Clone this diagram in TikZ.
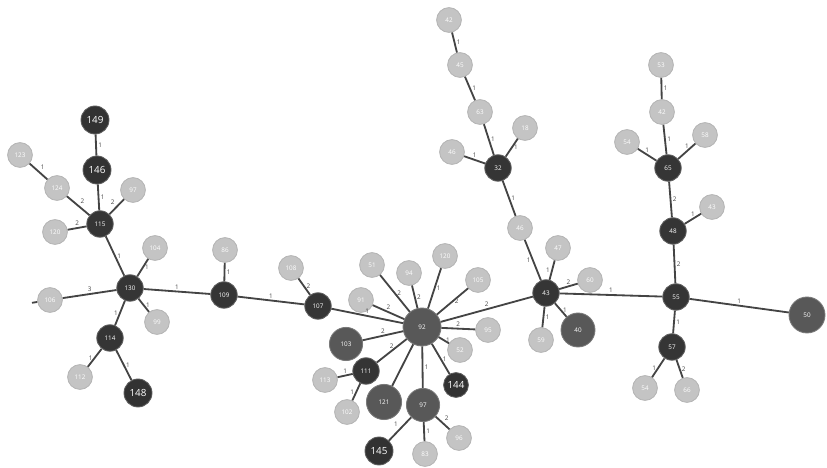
\documentclass[tikz,border=0pt]{standalone}
\usepackage{xcolor}
\usepackage{fontspec}
\setmainfont{Open Sans}
\usepackage{tikz}
\usetikzlibrary{positioning}

\definecolor{leafcol}{HTML}{C4C4C4}
\definecolor{leafrim}{HTML}{B4B4B4}
\definecolor{hubcol}{HTML}{353535}
\definecolor{heavycol}{HTML}{585858}
\definecolor{linkcol}{HTML}{444444}

\begin{document}
\begin{tikzpicture}[every node/.style={font=\fontsize{4.5}{4.5}\selectfont},
  leaf/.style={circle, draw=leafrim, line width=0.6pt, fill=leafcol, text=white, minimum size=0.62cm, inner sep=0pt},
  hub/.style={circle, draw=hubcol!80, line width=0.6pt, fill=hubcol, text=white, minimum size=0.66cm, inner sep=0pt},
  bighub/.style={hub, fill=hubcol!95!black, minimum size=0.70cm, font=\scriptsize},
  heavy/.style={circle, draw=heavycol!80, line width=0.6pt, fill=heavycol, text=white, inner sep=0pt},
  link/.style={draw=linkcol, line width=1.3pt},
  elab/.style={text=linkcol, font=\fontsize{4.5}{4.5}\selectfont, inner sep=1pt}]
  \useasboundingbox (0,0) rectangle (20.675,11.7);

  % Left branch: 115 and 130 with their leaves
  \node[bighub] (n149) at (2.375,8.70) {149};
  \node[bighub] (n146) at (2.425,7.45) {146};
  \node[leaf] (n123) at (0.50,7.825) {123};
  \node[leaf] (n124) at (1.425,7.00) {124};
  \node[leaf] (n97a) at (3.325,6.95) {97};
  \node[leaf] (n120a) at (1.375,5.90) {120};
  \node[hub] (n115) at (2.50,6.10) {115};
  \node[leaf] (n104) at (3.875,5.50) {104};
  \node[hub] (n130) at (3.25,4.50) {130};
  \node[leaf] (n106) at (1.25,4.20) {106};
  \coordinate (cut) at (0.80,4.13);
  \node[leaf] (n99) at (3.925,3.65) {99};
  \node[hub] (n114) at (2.75,3.25) {114};
  \node[leaf] (n112) at (2.00,2.275) {112};
  \node[bighub] (n148) at (3.45,1.875) {148};

  \draw[link] (n149) -- node[elab, right] {1} (n146);
  \draw[link] (n146) -- node[elab, right] {1} (n115);
  \draw[link] (n123) -- node[elab, above right] {1} (n124);
  \draw[link] (n124) -- node[elab, above right] {2} (n115);
  \draw[link] (n97a) -- node[elab, above left] {2} (n115);
  \draw[link] (n120a) -- node[elab, above] {2} (n115);
  \draw[link] (n115) -- node[elab, right] {1} (n130);
  \draw[link] (n104) -- node[elab, right] {1} (n130);
  \draw[link] (n106) -- node[elab, above] {3} (n130);
  \draw[link] (n106) -- (cut);
  \draw[link] (n130) -- node[elab, right] {1} (n99);
  \draw[link] (n130) -- node[elab, left] {1} (n114);
  \draw[link] (n114) -- node[elab, left] {1} (n112);
  \draw[link] (n114) -- node[elab, right] {1} (n148);

  % Chain to the centre
  \node[leaf] (n86) at (5.625,5.45) {86};
  \node[hub] (n109) at (5.60,4.325) {109};
  \node[leaf] (n108) at (7.275,5.00) {108};
  \node[hub] (n107) at (7.95,4.05) {107};

  \draw[link] (n130) -- node[elab, above] {1} (n109);
  \draw[link] (n86) -- node[elab, right] {1} (n109);
  \draw[link] (n109) -- node[elab, above] {1} (n107);
  \draw[link] (n108) -- node[elab, right] {2} (n107);

  % Centre: 92 and its neighbours
  \node[heavy, minimum size=0.95cm] (n92) at (10.55,3.525) {92};
  \node[leaf] (n51) at (9.30,5.075) {51};
  \node[leaf] (n94) at (10.225,4.875) {94};
  \node[leaf] (n120b) at (11.125,5.30) {120};
  \node[leaf] (n105) at (11.95,4.70) {105};
  \node[leaf] (n91) at (9.025,4.20) {91};
  \node[heavy, minimum size=0.83cm] (n103) at (8.65,3.10) {103};
  \node[leaf] (n95) at (12.20,3.45) {95};
  \node[leaf] (n52) at (11.50,2.95) {52};
  \node[hub] (n111) at (9.15,2.425) {111};
  \node[leaf] (n113) at (8.125,2.20) {113};
  \node[leaf] (n102) at (8.675,1.40) {102};
  \node[heavy, minimum size=0.88cm] (n121) at (9.60,1.65) {121};
  \node[heavy, minimum size=0.83cm] (n97b) at (10.575,1.575) {97};
  \node[bighub, minimum size=0.62cm] (n144) at (11.40,2.075) {144};
  \node[bighub] (n145) at (9.475,0.425) {145};
  \node[leaf] (n83) at (10.625,0.35) {83};
  \node[leaf] (n96) at (11.475,0.75) {96};

  \draw[link] (n107) -- node[elab, above] {1} (n92);
  \draw[link] (n51) -- node[elab, right] {2} (n92);
  \draw[link] (n94) -- node[elab, right] {2} (n92);
  \draw[link] (n120b) -- node[elab, right] {1} (n92);
  \draw[link] (n105) -- node[elab, right] {2} (n92);
  \draw[link] (n91) -- node[elab, above] {2} (n92);
  \draw[link] (n103) -- node[elab, above] {2} (n92);
  \draw[link] (n95) -- node[elab, above] {2} (n92);
  \draw[link] (n52) -- node[elab, right] {1} (n92);
  \draw[link] (n111) -- node[elab, above] {2} (n92);
  \draw[link] (n121) -- (n92);
  \draw[link] (n97b) -- node[elab, right] {1} (n92);
  \draw[link] (n144) -- node[elab, right] {1} (n92);
  \draw[link] (n113) -- node[elab, above] {1} (n111);
  \draw[link] (n102) -- node[elab, left] {1} (n111);
  \draw[link] (n97b) -- node[elab, above left] {1} (n145);
  \draw[link] (n97b) -- node[elab, right] {1} (n83);
  \draw[link] (n97b) -- node[elab, above right] {2} (n96);

  % Upper branch: 32 down to 43
  \node[leaf] (n42a) at (11.225,11.20) {42};
  \node[leaf] (n45) at (11.50,10.075) {45};
  \node[leaf] (n63) at (12.00,8.90) {63};
  \node[leaf] (n18) at (13.125,8.50) {18};
  \node[leaf] (n46a) at (11.30,7.90) {46};
  \node[hub] (n32) at (12.45,7.50) {32};
  \node[leaf] (n46b) at (13.00,6.00) {46};
  \node[leaf] (n47) at (13.95,5.50) {47};
  \node[hub] (n43a) at (13.65,4.375) {43};
  \node[leaf] (n60) at (14.75,4.70) {60};
  \node[heavy, minimum size=0.85cm] (n40) at (14.45,3.45) {40};
  \node[leaf] (n59) at (13.525,3.20) {59};

  \draw[link] (n92) -- node[elab, above] {2} (n43a);
  \draw[link] (n42a) -- node[elab, right] {1} (n45);
  \draw[link] (n45) -- node[elab, right] {1} (n63);
  \draw[link] (n63) -- node[elab, right] {1} (n32);
  \draw[link] (n18) -- node[elab, right] {1} (n32);
  \draw[link] (n46a) -- node[elab, above] {1} (n32);
  \draw[link] (n32) -- node[elab, right] {1} (n46b);
  \draw[link] (n46b) -- node[elab, left] {1} (n43a);
  \draw[link] (n47) -- node[elab, left] {1} (n43a);
  \draw[link] (n60) -- node[elab, above] {2} (n43a);
  \draw[link] (n43a) -- node[elab, right] {1} (n40);
  \draw[link] (n43a) -- node[elab, right] {1} (n59);

  % Right branch: 65, 48, 55, 57
  \node[leaf] (n53) at (16.525,10.075) {53};
  \node[leaf] (n42b) at (16.55,8.90) {42};
  \node[leaf] (n54a) at (15.675,8.15) {54};
  \node[leaf] (n58) at (17.625,8.325) {58};
  \node[hub] (n65) at (16.70,7.50) {65};
  \node[leaf] (n43b) at (17.80,6.525) {43};
  \node[hub] (n48) at (16.825,5.925) {48};
  \node[hub] (n55) at (16.90,4.275) {55};
  \node[heavy, minimum size=0.90cm] (n50) at (20.175,3.825) {50};
  \node[hub] (n57) at (16.80,3.025) {57};
  \node[leaf] (n54b) at (16.125,2.00) {54};
  \node[leaf] (n66) at (17.175,1.95) {66};

  \draw[link] (n43a) -- node[elab, above] {1} (n55);
  \draw[link] (n53) -- node[elab, right] {1} (n42b);
  \draw[link] (n42b) -- node[elab, right] {1} (n65);
  \draw[link] (n54a) -- node[elab, above] {1} (n65);
  \draw[link] (n58) -- node[elab, above] {1} (n65);
  \draw[link] (n65) -- node[elab, right] {2} (n48);
  \draw[link] (n43b) -- node[elab, above] {1} (n48);
  \draw[link] (n48) -- node[elab, right] {2} (n55);
  \draw[link] (n55) -- node[elab, above] {1} (n50);
  \draw[link] (n55) -- node[elab, right] {1} (n57);
  \draw[link] (n57) -- node[elab, left] {1} (n54b);
  \draw[link] (n57) -- node[elab, right] {2} (n66);
\end{tikzpicture}
\end{document}
